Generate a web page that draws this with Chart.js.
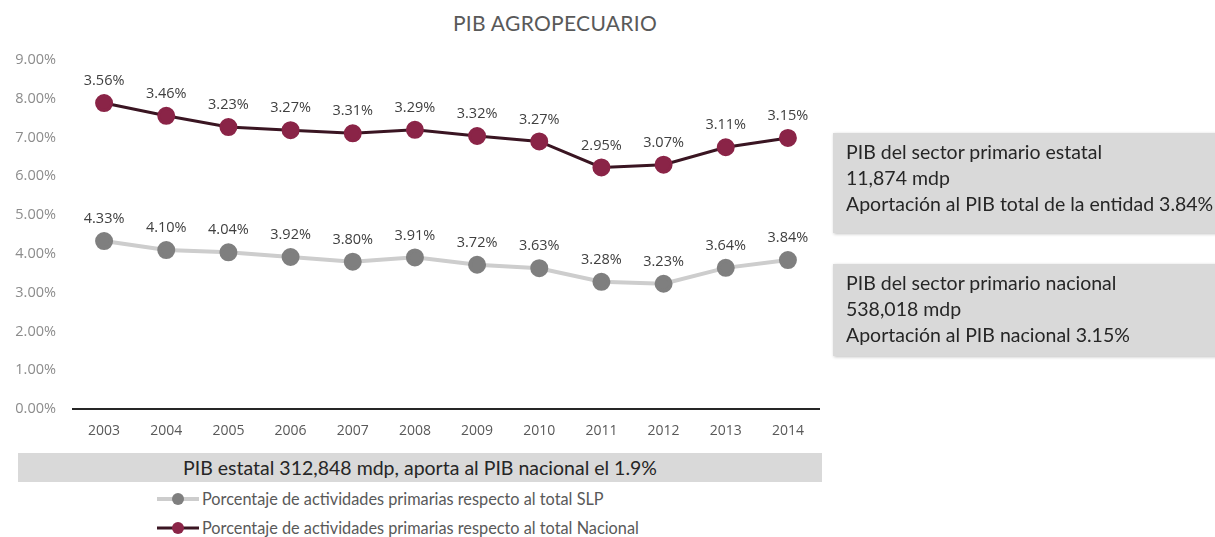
<!DOCTYPE html>
<html>
<head>
<meta charset="utf-8">
<script src="https://cdn.jsdelivr.net/npm/chart.js@4.4.0/dist/chart.umd.min.js"></script>
<style>
  body { margin: 0; background: #fff; font-family: Lato, "Open Sans", sans-serif; }
  #wrap { position: relative; width: 1215px; height: 537px; overflow: hidden; }
  #title { position: absolute; left: 355px; width: 400px; top: 10px; text-align: center;
           font-size: 21px; color: #595959; letter-spacing: 0.3px; }
  #chartBox { position: absolute; left: 0; top: 0; width: 830px; height: 445px; }
  .info { position: absolute; left: 833px; width: 390px; background: #d9d9d9;
          box-shadow: 1px 1px 3px rgba(0,0,0,0.25); color: #262626; font-size: 19.5px;
          line-height: 26px; padding: 6px 0 0 13px; box-sizing: border-box; }
  #banner { position: absolute; left: 18px; width: 804px; top: 453px; height: 29px; background: #d9d9d9;
            text-align: center; font-size: 19.5px; line-height: 29px; color: #262626; }
  #legend { position: absolute; left: 155px; top: 484px; font-size: 16.3px; color: #595959; }
  .lg { display: flex; align-items: center; height: 29px; }
  .lg svg { margin-right: 1px; }
</style>
</head>
<body>
<div id="wrap">
  <div id="title">PIB AGROPECUARIO</div>
  <div id="chartBox"><canvas id="myChart"></canvas></div>
  <div class="info" style="top:133px;height:100px;">PIB del sector primario estatal<br>11,874 mdp<br>Aportación al PIB total de la entidad 3.84%</div>
  <div class="info" style="top:264px;height:92px;">PIB del sector primario nacional<br>538,018 mdp<br>Aportación al PIB nacional 3.15%</div>
  <div id="banner">PIB estatal 312,848 mdp, aporta al PIB nacional el 1.9%</div>
  <div id="legend"></div>
</div>
<script>
const years = ['2003', '2004', '2005', '2006', '2007', '2008', '2009', '2010', '2011', '2012', '2013', '2014'];
const slpValues = [4.33, 4.10, 4.04, 3.92, 3.80, 3.91, 3.72, 3.63, 3.28, 3.23, 3.64, 3.84];
const nacionalValues = [3.56, 3.46, 3.23, 3.27, 3.31, 3.29, 3.32, 3.27, 2.95, 3.07, 3.11, 3.15];
const seriesNames = [
  'Porcentaje de actividades primarias respecto al total SLP',
  'Porcentaje de actividades primarias respecto al total Nacional'
];

// draws the value label above each point (raw value, not stacked)
const pointLabels = {
  id: 'pointLabels',
  afterDatasetsDraw(chart) {
    const ctx = chart.ctx;
    ctx.save();
    ctx.font = '14.5px "Open Sans", sans-serif';
    ctx.fillStyle = '#404040';
    ctx.textAlign = 'center';
    ctx.textBaseline = 'middle';
    chart.data.datasets.forEach((ds, i) => {
      const meta = chart.getDatasetMeta(i);
      meta.data.forEach((pt, j) => {
        ctx.fillText(ds.data[j].toFixed(2) + '%', pt.x, pt.y - 22);
      });
    });
    ctx.restore();
  }
};

const chart = new Chart(document.getElementById('myChart'), {
  type: 'line',
  data: {
    labels: years,
    datasets: [
      {
        label: seriesNames[0],
        data: slpValues,
        borderColor: '#cdcdcd',
        borderWidth: 4,
        pointBackgroundColor: '#7f7f7f',
        pointBorderColor: '#7f7f7f',
        pointRadius: 7,
        tension: 0
      },
      {
        label: seriesNames[1],
        data: nacionalValues,
        borderColor: '#3a1522',
        borderWidth: 3,
        pointBackgroundColor: '#8a2447',
        pointBorderColor: '#8a2447',
        pointRadius: 7.5,
        tension: 0
      }
    ]
  },
  options: {
    responsive: true,
    maintainAspectRatio: false,
    animation: false,
    layout: { padding: { top: 60, right: 8, left: 0, bottom: 0 } },
    plugins: { legend: { display: false }, tooltip: { enabled: false } },
    scales: {
      x: {
        offset: true,
        grid: { display: false, drawTicks: false },
        border: { display: true, color: '#262626', width: 2 },
        ticks: { color: '#595959', font: { size: 14, family: 'Open Sans' }, padding: 14 },
        afterFit(scale) { scale.height = 36; }
      },
      y: {
        stacked: true,
        min: 0,
        max: 9,
        grid: { display: false, drawTicks: false },
        border: { display: false },
        ticks: {
          stepSize: 1,
          color: '#8c8c8c',
          font: { size: 14.5, family: 'Open Sans' },
          padding: 17,
          callback: v => v.toFixed(2) + '%'
        },
        afterFit(scale) { scale.width = 73; }
      }
    }
  },
  plugins: [pointLabels]
});

// legend below the banner, one item per line
const legendEl = document.getElementById('legend');
chart.data.datasets.forEach(ds => {
  const item = document.createElement('div');
  item.className = 'lg';
  item.innerHTML =
    '<svg width="46" height="16"><line x1="2" y1="8" x2="44" y2="8" stroke="' + ds.borderColor +
    '" stroke-width="' + ds.borderWidth + '"/><circle cx="23" cy="8" r="6" fill="' + ds.pointBackgroundColor +
    '"/></svg><span>' + ds.label + '</span>';
  legendEl.appendChild(item);
});
</script>
</body>
</html>
